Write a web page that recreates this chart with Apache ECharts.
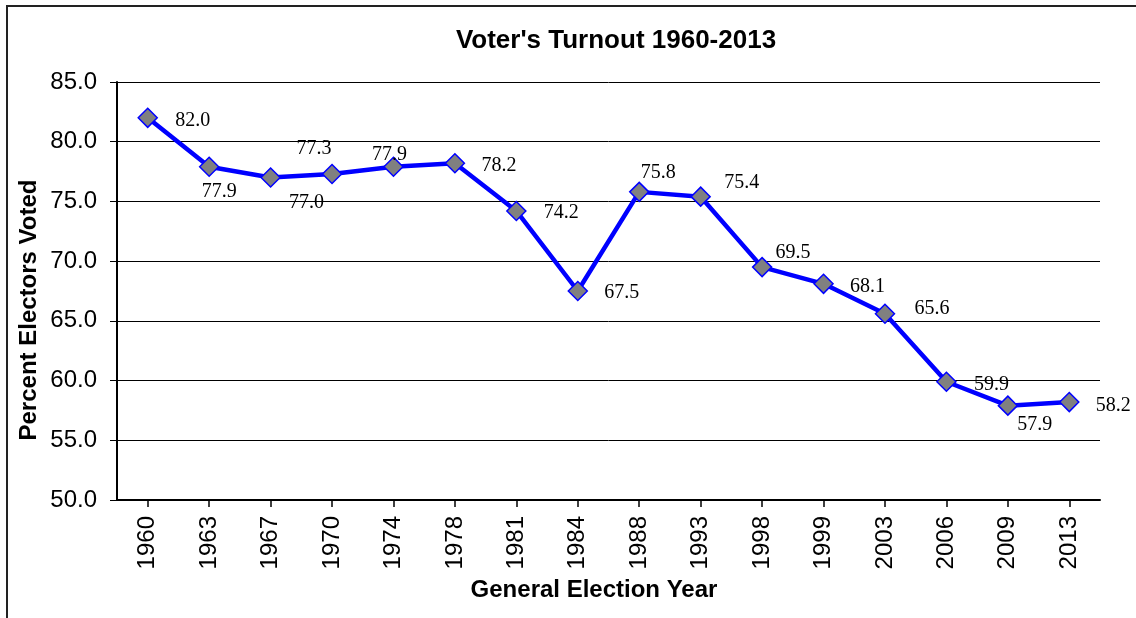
<!DOCTYPE html>
<html>
<head>
<meta charset="utf-8">
<script src="https://cdn.jsdelivr.net/npm/echarts@6/dist/echarts.min.js"></script>
<style>
  html, body { margin: 0; padding: 0; background: #ffffff; }
  #chart { width: 1136px; height: 618px; }
</style>
</head>
<body>
<div id="chart"></div>
<script>
const years = ['1960', '1963', '1967', '1970', '1974', '1978', '1981', '1984', '1988', '1993', '1998', '1999', '2003', '2006', '2009', '2013'];
const turnout = [82.0, 77.9, 77.0, 77.3, 77.9, 78.2, 74.2, 67.5, 75.8, 75.4, 69.5, 68.1, 65.6, 59.9, 57.9, 58.2];
const yTicks = { min: 50, max: 85, interval: 5 };
// label placement (pixel offsets from each marker)
const labelOffsets = [[45, 3], [10, 25], [36, 25], [-18, -25], [-4, -12], [44, 3], [45, 2], [44, 2], [19, -19], [41, -14], [31, -14], [44, 3], [47, -5], [45, 3], [27, 19], [44, 4]];

const chart = echarts.init(document.getElementById('chart'), null, { renderer: 'canvas' });

const sans = 'Liberation Sans, Arial, sans-serif';
const serif = 'Liberation Serif, Times New Roman, serif';

chart.setOption({
  backgroundColor: '#ffffff',
  animation: false,
  title: {
    text: "Voter's Turnout 1960-2013",
    left: 611,
    top: 23,
    textAlign: 'center',
    textStyle: { fontFamily: sans, fontWeight: 'bold', fontSize: 26, color: '#000' }
  },
  graphic: [
    {
      type: 'rect',
      shape: { x: 7, y: 6, width: 1300, height: 800 },
      style: { fill: 'none', stroke: '#222', lineWidth: 2 },
      silent: true
    },
    {
      type: 'text',
      x: 29, y: 310,
      rotation: Math.PI / 2,
      style: {
        text: 'Percent Electors Voted',
        font: 'bold 24px ' + sans,
        fill: '#000',
        align: 'center',
        verticalAlign: 'middle'
      }
    },
    {
      type: 'text',
      x: 594, y: 590,
      style: {
        text: 'General Election Year',
        font: 'bold 24px ' + sans,
        fill: '#000',
        align: 'center',
        verticalAlign: 'middle'
      }
    }
  ],
  grid: { left: 117, right: 36, top: 82, bottom: 118, containLabel: false },
  xAxis: {
    type: 'category',
    data: years,
    boundaryGap: true,
    axisLine: { show: true, lineStyle: { color: '#000', width: 2 } },
    axisTick: { show: true, alignWithLabel: true, length: 7, lineStyle: { color: '#000', width: 1.5 } },
    axisLabel: { rotate: 90, margin: 16, fontFamily: sans, fontSize: 24, color: '#000', interval: 0 },
    splitLine: { show: false }
  },
  yAxis: {
    type: 'value',
    min: yTicks.min,
    max: yTicks.max,
    interval: yTicks.interval,
    axisLine: { show: true, lineStyle: { color: '#000', width: 2 } },
    axisTick: { show: true, length: 7, lineStyle: { color: '#000', width: 1 } },
    axisLabel: { margin: 20, fontFamily: sans, fontSize: 24, color: '#000', formatter: v => v.toFixed(1) },
    splitLine: { show: true, lineStyle: { color: '#000', width: 1 } }
  },
  series: [{
    type: 'line',
    data: turnout.map((v, i) => ({
      value: v,
      label: { offset: labelOffsets[i] }
    })),
    symbol: 'diamond',
    symbolSize: 19,
    lineStyle: { color: '#0000ff', width: 4.5 },
    itemStyle: { color: '#808080', borderColor: '#0000ff', borderWidth: 1.5 },
    label: {
      show: true,
      position: 'inside',
      fontFamily: serif,
      fontSize: 20,
      color: '#000',
      formatter: p => p.value.toFixed(1)
    },
    z: 3
  }]
});
</script>
</body>
</html>
